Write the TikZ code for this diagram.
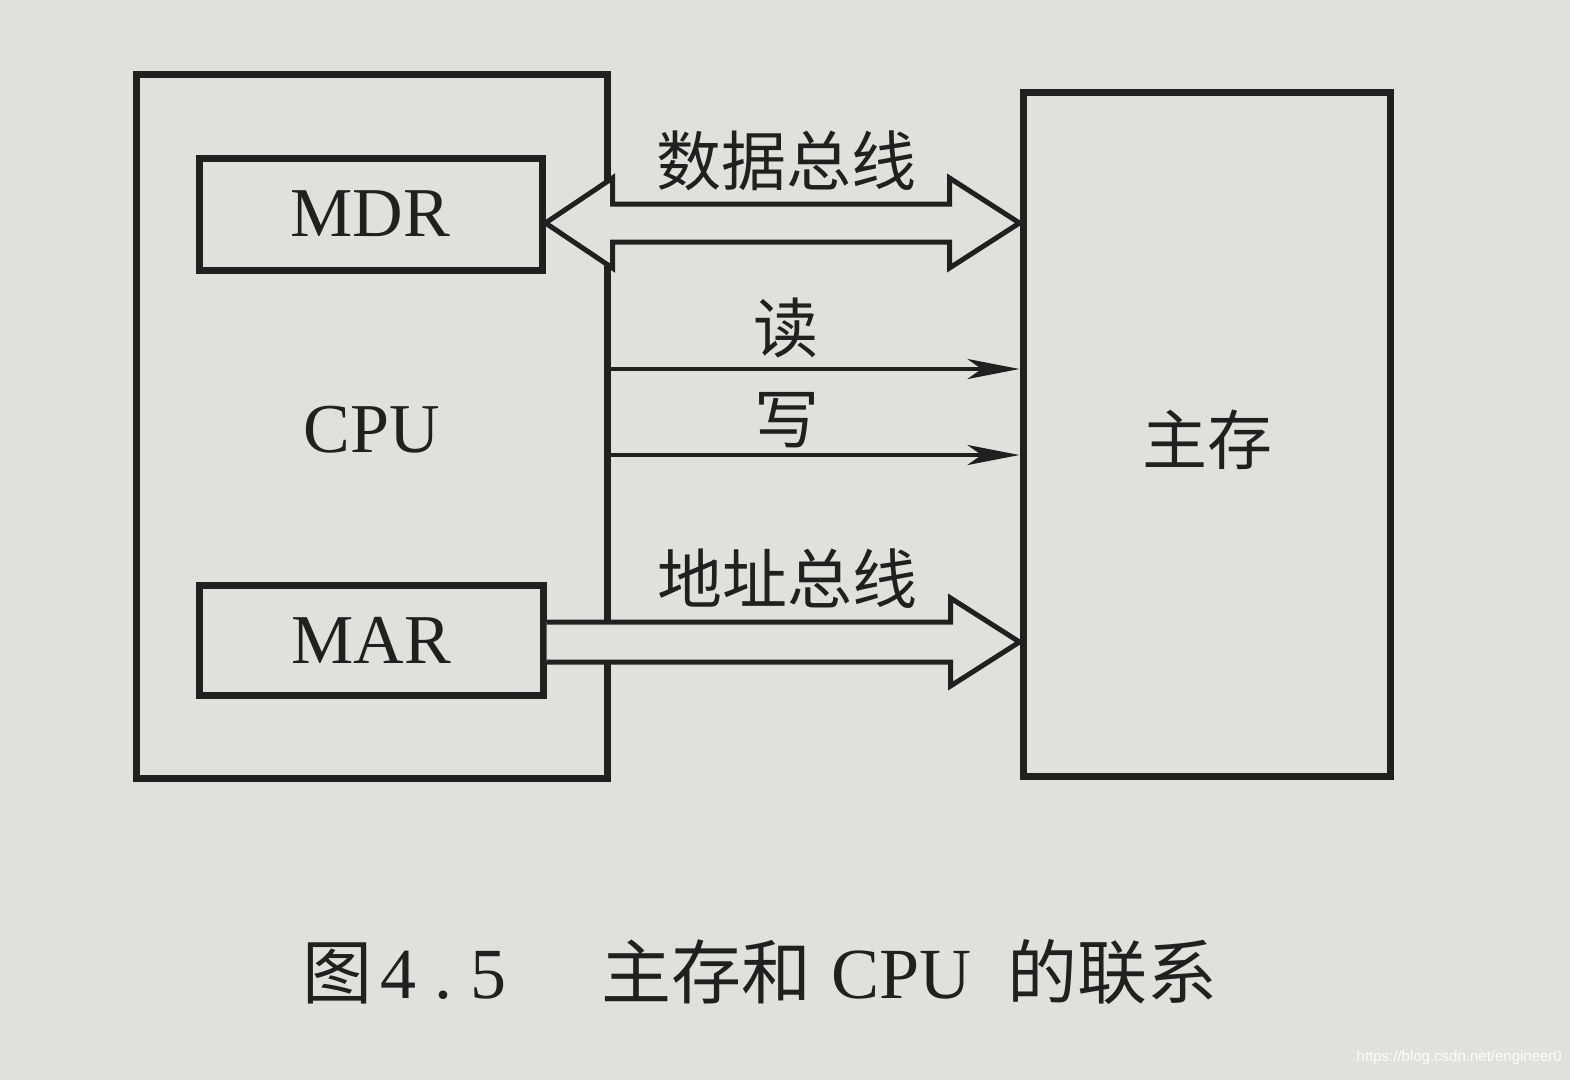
\documentclass[tikz,border=0pt]{standalone}
\usepackage{fontspec}
\setmainfont{Liberation Serif}
\newfontfamily\cjk{Noto Sans CJK SC}
\newfontfamily\wmfont{Liberation Sans}
\usetikzlibrary{arrows.meta,calc}
\definecolor{paper}{RGB}{224,225,223}
\definecolor{ink}{RGB}{32,32,32}
\begin{document}
\begin{tikzpicture}[x=1pt,y=-1pt,
  box/.style={draw=ink, line width=7pt, inner sep=0pt},
  bus/.style={draw=ink, fill=paper, line width=5pt, line join=miter},
  sig/.style={draw=ink, line width=4.5pt, -{Stealth[length=52pt,width=20pt,inset=14pt]}},
  lat/.style={font=\fontsize{70}{80}\selectfont, text=ink},
  han/.style={font=\cjk\fontsize{65}{72}\selectfont, text=ink, inner sep=0pt},
]
\fill[paper] (0,0) rectangle (1570,1080);
\useasboundingbox (0,0) rectangle (1570,1080);

% boxes
\node[box, minimum width=471pt, minimum height=704pt] (cpu) at (371.5,426) {};
\node[lat] (cpulabel) at (372,430) {CPU};
\node[box, lat, minimum width=343pt, minimum height=112pt] (mdr) at (370.5,214) {MDR};
\node[box, lat, minimum width=344pt, minimum height=110pt] (mar) at (371,640) {MAR};
\node[box, minimum width=367pt, minimum height=684pt] (mem) at (1206.5,434) {};
\node[han] (memlabel) at (1207,440) {主存};

% helper heights
\coordinate (yDB) at (0,223);
\coordinate (yR) at (0,369);
\coordinate (yW) at (0,455);
\coordinate (yAB) at (0,642);

% data bus (double arrow)
\coordinate (dbL) at (mdr.east |- yDB);
\coordinate (dbR) at (mem.west |- yDB);
\path[bus] (dbL) -- ++(67,-45) -- ++(0,26) -- ($(dbR)+(-70,-19)$) -- ++(0,-26)
  -- (dbR) -- ++(-70,45) -- ++(0,-26) -- ($(dbL)+(67,19)$) -- ++(0,26) -- cycle;
\node[han] (dblabel) at (786,161) {数据总线};

% read / write
\draw[sig] (cpu.east |- yR) -- (mem.west |- yR);
\node[han] (rlabel) at (786,328) {读};
\draw[sig] (cpu.east |- yW) -- (mem.west |- yW);
\node[han] (wlabel) at (787,420) {写};

% address bus
\coordinate (abL) at (mar.east |- yAB);
\coordinate (abR) at (mem.west |- yAB);
\path[bus] ($(abL)+(0,-20)$) -- ($(abR)+(-69,-20)$) -- ++(0,-24) -- (abR)
  -- ++(-69,44) -- ++(0,-24) -- ($(abL)+(0,20)$);
\node[han] (ablabel) at (787,579) {地址总线};

% caption
\node[anchor=west, inner sep=0pt, text=ink, font=\fontsize{72}{80}\selectfont] (cap) at (302,972)
  {{\cjk\fontsize{70}{80}\selectfont 图}\hspace{8pt}4\hspace{18pt}.\hspace{18pt}5\hspace{95pt}{\cjk\fontsize{70}{80}\selectfont 主存和}\hspace{20pt}CPU\hspace{36pt}{\cjk\fontsize{70}{80}\selectfont 的联系}};

% watermark
\node[anchor=east, inner sep=0pt, font=\wmfont\fontsize{15}{18}\selectfont, text=white!92!paper] (wm) at (1562,1058) {https://blog.csdn.net/engineer0};
\end{tikzpicture}
\end{document}
